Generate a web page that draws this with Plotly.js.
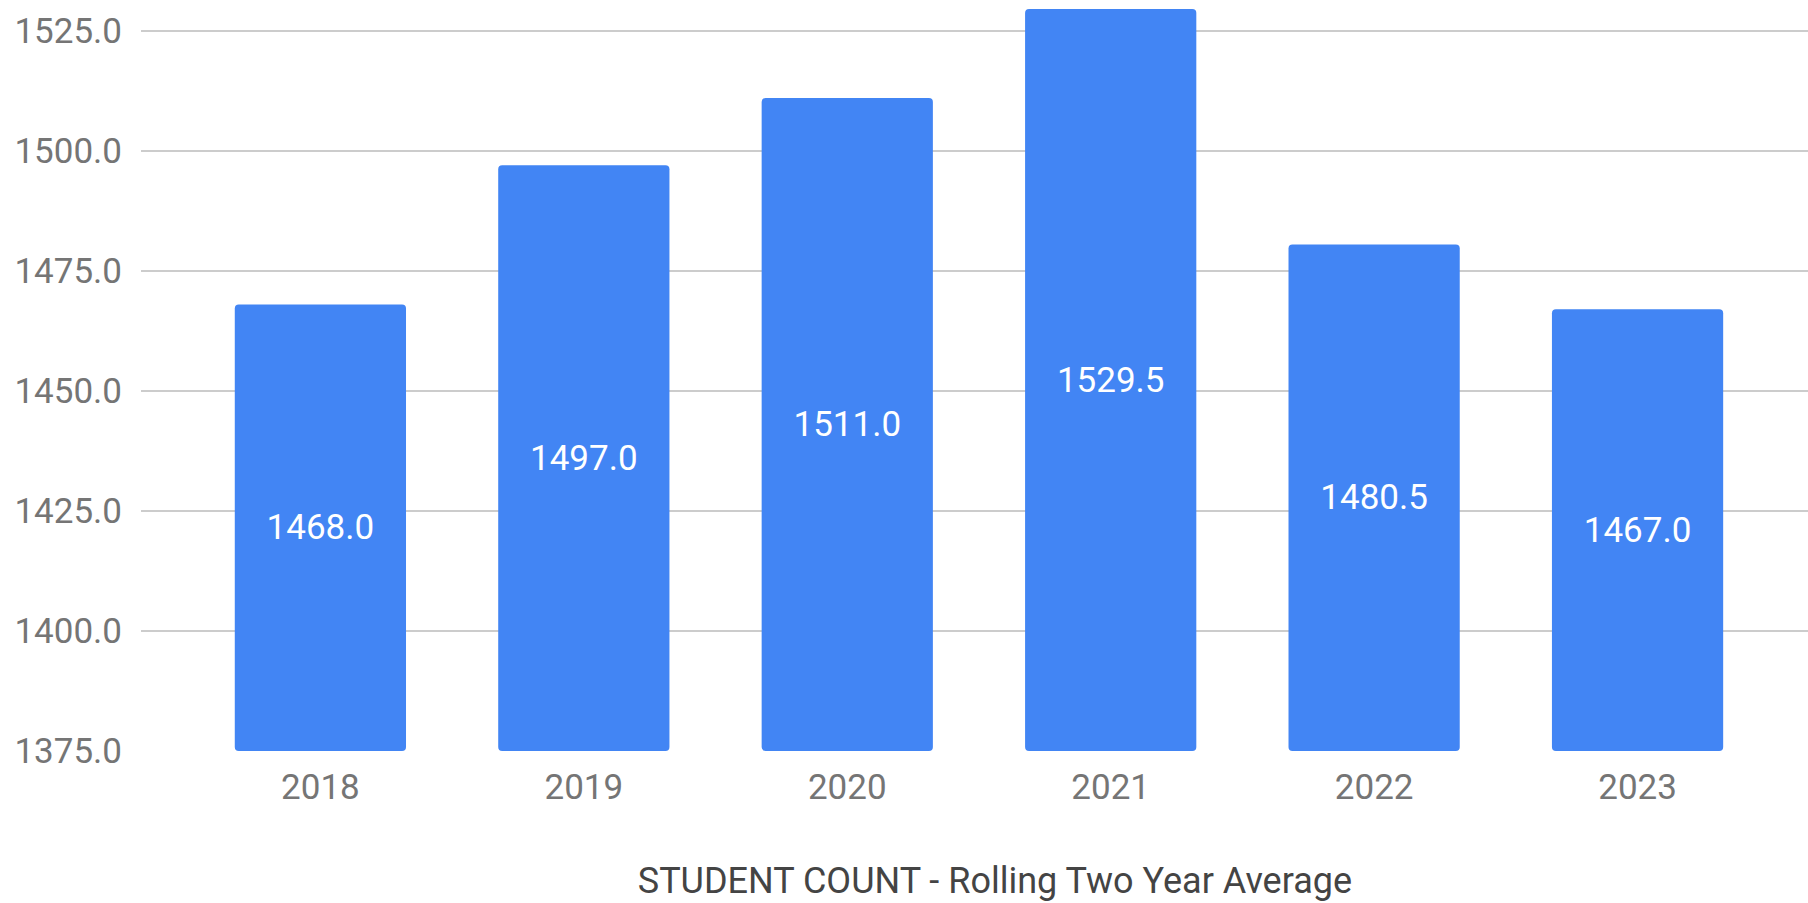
<!DOCTYPE html>
<html>
<head>
<meta charset="utf-8">
<script src="https://cdn.plot.ly/plotly-3.0.1.min.js"></script>
<style>
  html, body { margin: 0; padding: 0; background: #ffffff; }
  #chart { width: 1808px; height: 903px; }
</style>
</head>
<body>
<div id="chart"></div>
<script>
const years = ['2018', '2019', '2020', '2021', '2022', '2023'];
const studentCount = [1468.0, 1497.0, 1511.0, 1529.5, 1480.5, 1467.0];
const yTicks = [1375, 1400, 1425, 1450, 1475, 1500, 1525];
const axisMin = 1375;
const chartTitle = 'STUDENT COUNT - Rolling Two Year Average';

// Bars start at the axis minimum (as in the original chart) and reach each value.
const trace = {
  type: 'bar',
  x: years,
  base: axisMin,
  y: studentCount.map(v => v - axisMin),
  text: studentCount.map(v => v.toFixed(1)),
  texttemplate: '%{text}',
  marker: { color: '#4285F4', cornerradius: 4 },
  textposition: 'inside',
  insidetextanchor: 'middle',
  textangle: 0,
  constraintext: 'none',
  textfont: { family: 'Roboto, sans-serif', size: 35, color: '#ffffff' },
  hoverinfo: 'skip'
};

const layout = {
  width: 1808,
  height: 903,
  margin: { l: 141, r: 0, t: 0, b: 152 },
  paper_bgcolor: '#ffffff',
  plot_bgcolor: '#ffffff',
  bargap: 0.35,
  showlegend: false,
  font: { family: 'Roboto, sans-serif' },
  title: {
    text: chartTitle,
    font: { family: 'Roboto, sans-serif', size: 36, color: '#444444' },
    xref: 'container', yref: 'container',
    x: 0.5503, y: 0.025,
    xanchor: 'center', yanchor: 'middle'
  },
  xaxis: {
    type: 'category',
    range: [-0.681, 5.647],
    showgrid: false,
    showline: false,
    zeroline: false,
    ticks: '',
    ticklabelstandoff: 12,
    tickfont: { family: 'Roboto, sans-serif', size: 35, color: '#757575' }
  },
  yaxis: {
    range: [1375, 1531.4],
    tickvals: yTicks,
    tickformat: '.1f',
    showgrid: true,
    gridcolor: '#cccccc',
    gridwidth: 2,
    showline: false,
    zeroline: false,
    ticks: '',
    ticklabelstandoff: 18,
    tickfont: { family: 'Roboto, sans-serif', size: 35, color: '#757575' }
  }
};

Plotly.newPlot('chart', [trace], layout, { staticPlot: true, displayModeBar: false });
</script>
</body>
</html>
